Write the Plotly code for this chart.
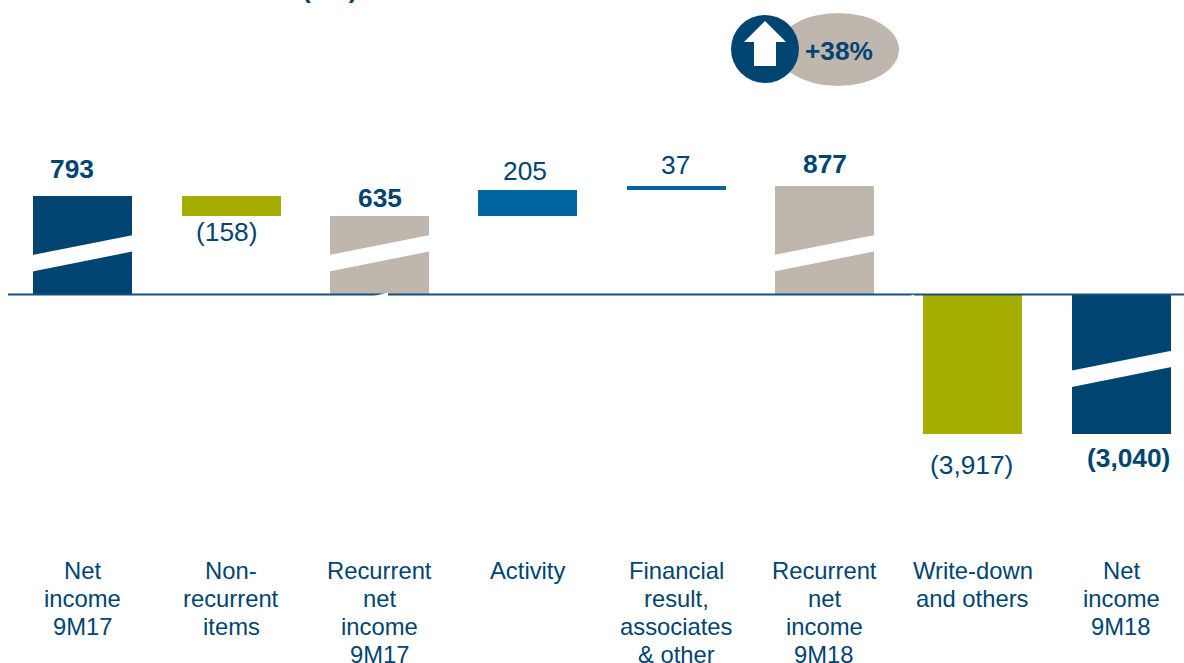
import plotly.graph_objects as go

categories = ["Net<br>income<br>9M17", "Non-<br>recurrent<br>items", "Recurrent<br>net<br>income<br>9M17",
              "Activity", "Financial<br>result,<br>associates<br>& other", "Recurrent<br>net<br>income<br>9M18",
              "Write-down<br>and others", "Net<br>income<br>9M18"]
bar_bases = [0, 635, 0, 635, 840, 0, 0, 0]
bar_values = [793, 158, 635, 205, 37, 877, -3917, -3040]
value_labels = ["793", "(158)", "635", "205", "37", "877", "(3,917)", "(3,040)"]
label_bold = [True, False, True, False, False, True, False, True]
bar_colors = ["#004571", "#A5AD00", "#BFB7AD", "#0066A3", "#0066A3", "#BFB7AD", "#A5AD00", "#004571"]
broken_bars = [0, 2, 5, 7]
change_label = "+38%"
# Only the bottoms of two parentheses are visible in the reference; the text inside them is a guess.
clipped_title_unit = "(€m)"

W, H = 1184, 663
NAVY = "#004571"
FONT = "Liberation Sans"
PX_PER_UNIT = 0.124
ZERO_PX = 294.5
BOTTOM_PX = 434.0
X0_PX, STEP_PX = 82.95, 148.3


def px(x):
    return x / W


def py(y):
    return 1 - y / H


def dy(y):
    return (ZERO_PX - y) / PX_PER_UNIT


def dx(x):
    return (x - X0_PX) / STEP_PX


x_pos = list(range(len(categories)))
fig = go.Figure(go.Bar(x=x_pos, y=bar_values, base=bar_bases, width=99 / STEP_PX,
                       marker=dict(color=bar_colors, line=dict(width=0)), showlegend=False))

shapes = []
# slanted breaks across the long bars
for i in broken_bars:
    cx = X0_PX + STEP_PX * i
    top_l, top_r = (255, 235) if i != 7 else (370.7, 350.7)
    shapes.append(dict(type="path", xref="x", yref="y", layer="above", line=dict(width=0), fillcolor="white",
                       path=f"M{dx(cx-50.5)},{dy(top_l)} L{dx(cx+50.5)},{dy(top_r)} "
                            f"L{dx(cx+50.5)},{dy(top_r+16.3)} L{dx(cx-50.5)},{dy(top_l+16.6)} Z"))
# baseline
shapes.append(dict(type="line", xref="paper", yref="y", x0=px(8), x1=1, y0=0, y1=0, layer="above",
                   line=dict(color="#174F7E", width=2)))
# small white notches that cross the baseline
for nx0, nx1, ny0, ny1 in [(372, 388, 296.5, 292.5), (909, 914, 296.5, 294.5)]:
    shapes.append(dict(type="path", xref="paper", yref="paper", layer="above", line=dict(width=0), fillcolor="white",
                       path=f"M{px(nx0)},{py(ny0)} L{px(nx1)},{py(ny1)} L{px(nx1)},{py(ny0)} Z"))
# change badge
shapes.append(dict(type="circle", xref="paper", yref="paper", x0=px(777), x1=px(899), y0=py(86), y1=py(13),
                   fillcolor="#BFB7AD", line=dict(width=0)))
shapes.append(dict(type="circle", xref="paper", yref="paper", x0=px(731), x1=px(799), y0=py(83), y1=py(15),
                   fillcolor=NAVY, line=dict(width=0)))
arrow = [(765, 21), (786, 42), (776, 42), (776, 66), (754, 66), (754, 42), (744, 42)]
shapes.append(dict(type="path", xref="paper", yref="paper", fillcolor="white", line=dict(width=0),
                   path="M" + " L".join(f"{px(a)},{py(b)}" for a, b in arrow) + " Z"))

annotations = []
label_px = [(71.8, 169), (226, 232), (379.5, 198), (525.2, 171), (675.3, 165), (825, 164), (971.7, 465), (1128, 458)]
for txt, bold, (lx, ly) in zip(value_labels, label_bold, label_px):
    annotations.append(dict(text=f"<b>{txt}</b>" if bold else txt, xref="paper", yref="paper", x=px(lx), y=py(ly),
                            showarrow=False, xanchor="center", yanchor="middle",
                            font=dict(family=FONT, size=26.3, color=NAVY)))
for i, cat in enumerate(categories):
    for j, line in enumerate(cat.split("<br>")):
        annotations.append(dict(text=line, xref="x", yref="paper", x=i, y=py(570.4 + 27.9 * j),
                                showarrow=False, xanchor="center", yanchor="middle",
                                font=dict(family=FONT, size=23.8, color=NAVY)))
annotations.append(dict(text=f"<b>{change_label}</b>", xref="paper", yref="paper", x=px(839.3), y=py(51.3),
                        showarrow=False, xanchor="center", yanchor="middle",
                        font=dict(family=FONT, size=26.3, color=NAVY)))
# title fragment: only the lowest pixels of it fall inside the picture, as in the source crop
annotations.append(dict(text=f"<b>{clipped_title_unit}</b>", xref="paper", yref="paper", x=px(329.5), y=py(-11.5),
                        showarrow=False, xanchor="center", yanchor="middle",
                        font=dict(family=FONT, size=26.3, color=NAVY)))

fig.update_layout(
    width=W, height=H, margin=dict(l=0, r=0, t=0, b=0), autosize=False,
    paper_bgcolor="white", plot_bgcolor="white", bargap=0, showlegend=False,
    xaxis=dict(domain=[px(8), 1], range=[dx(8), dx(1184)], showgrid=False, zeroline=False, showline=False,
               showticklabels=False, ticks="", tickvals=x_pos),
    yaxis=dict(domain=[py(BOTTOM_PX), 1], range=[dy(BOTTOM_PX), dy(0)], showgrid=False, zeroline=False,
               showline=False, showticklabels=False, ticks=""),
    shapes=shapes, annotations=annotations,
)
fig.write_html("out.html", config=dict(displayModeBar=False),
               post_script="document.body.style.margin='0';document.body.style.overflow='hidden';")
